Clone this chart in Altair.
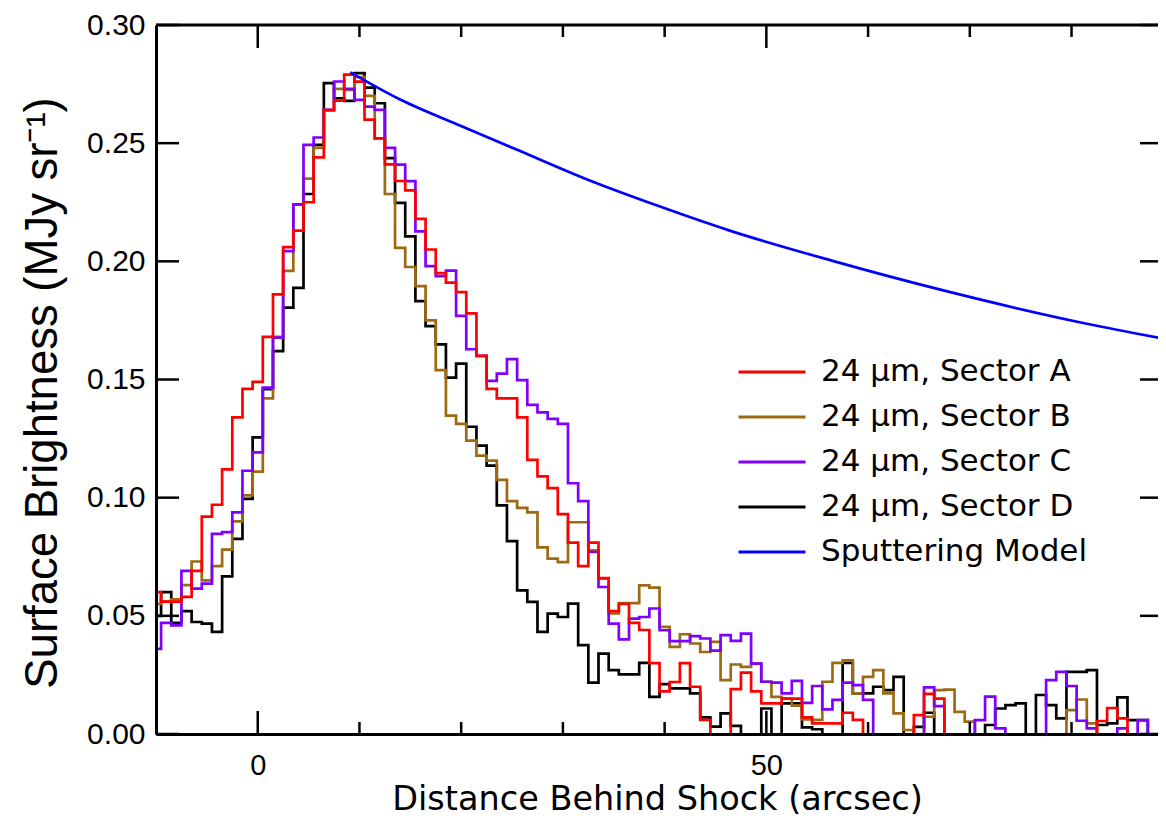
import altair as alt
import pandas as pd

# ---------------- data ----------------
x_bins = list(range(-10, 90))  # bin centres (arcsec)

sector_a = [0.060, 0.056, 0.056, 0.058, 0.069, 0.092, 0.097, 0.112, 0.134, 0.146,
            0.149, 0.168, 0.186, 0.206, 0.213, 0.225, 0.244, 0.264, 0.268, 0.279,
            0.276, 0.260, 0.252, 0.241, 0.234, 0.230, 0.218, 0.205, 0.195, 0.191,
            0.187, 0.178, 0.160, 0.146, 0.142, 0.142, 0.134, 0.116, 0.109, 0.104,
            0.093, 0.081, 0.071, 0.081, 0.066, 0.052, 0.055, 0.047, 0.044, 0.030,
            0.018, 0.022, 0.030, 0.020, 0.006, -0.003, -0.003, 0.019, 0.026, 0.018,
            0.013, 0.013, 0.015, 0.015, 0.007, 0.0045, 0.0045, 0.0045, 0.009, 0.006,
            -0.003, -0.003, -0.003, -0.003, -0.003, 0.008, 0.017, 0.015, -0.003, -0.003,
            -0.003, -0.003, -0.003, -0.003, -0.003, -0.003, -0.003, -0.003, -0.003, -0.003,
            -0.003, -0.003, -0.003, 0.0055, 0.011, 0.0066, -0.003, -0.003, -0.003, -0.003]

sector_b = [0.055, 0.056, 0.057, 0.063, 0.073, 0.065, 0.071, 0.078, 0.090, 0.101,
            0.111, 0.142, 0.168, 0.196, 0.224, 0.235, 0.248, 0.264, 0.273, 0.2725,
            0.278, 0.270, 0.252, 0.2285, 0.2057, 0.1976, 0.1895, 0.175, 0.154, 0.1347,
            0.1312, 0.1241, 0.1178, 0.1157, 0.1075, 0.0985, 0.0957, 0.0938, 0.079, 0.0742,
            0.0727, 0.0896, 0.0896, 0.0777, 0.0657, 0.051, 0.0554, 0.0554, 0.0629, 0.0619,
            0.0453, 0.0369, 0.0422, 0.0383, 0.0347, 0.039, 0.0228, 0.0294, 0.0284, 0.0298,
            0.0221, 0.0157, 0.015, 0.012, 0.0062, 0.006, 0.0221, 0.0301, 0.0312, 0.0172,
            0.0242, 0.027, 0.0172, 0.0087, 0.0017, -0.003, 0.0073, 0.0186, 0.0188, 0.0094,
            0.0052, -0.003, -0.003, -0.003, -0.003, -0.003, -0.003, -0.003, -0.003, -0.003,
            0.0101, 0.0146, 0.0045, -0.003, -0.003, -0.003, -0.003, -0.003, -0.003, -0.003]

sector_c = [0.036, 0.047, 0.046, 0.069, 0.0615, 0.0636, 0.0847, 0.0854, 0.0938, 0.1114,
            0.1192, 0.1466, 0.1677, 0.2043, 0.2241, 0.2493, 0.2524, 0.2641, 0.2761, 0.273,
            0.2683, 0.2655, 0.2641, 0.248, 0.2409, 0.2339, 0.2127, 0.198, 0.1937, 0.1961,
            0.1769, 0.1628, 0.160, 0.1494, 0.1525, 0.1586, 0.1497, 0.1393, 0.1361, 0.1333,
            0.1312, 0.1061, 0.0985, 0.077, 0.0622, 0.0467, 0.040, 0.0488, 0.0495, 0.0531,
            0.0439, 0.0393, 0.0393, 0.0414, 0.0404, 0.0353, 0.0418, 0.0394, 0.0425, 0.0298,
            0.0221, 0.0217, 0.0172, 0.0225, 0.0132, 0.0203, 0.0104, 0.0144, 0.0217, 0.0207,
            0.0144, -0.003, -0.003, -0.003, -0.003, -0.003, 0.0197, 0.0118, -0.003, -0.003,
            -0.003, 0.0059, 0.0158, 0.0024, -0.003, -0.003, -0.003, -0.003, 0.0228, 0.0263,
            0.0203, 0.0056, 0.0024, -0.003, -0.003, 0.0024, -0.003, 0.0059, -0.003, -0.003]

sector_d = [0.050, 0.060, 0.047, 0.052, 0.0474, 0.0467, 0.0432, 0.0667, 0.0826, 0.0995,
            0.1255, 0.1459, 0.162, 0.1804, 0.1888, 0.2285, 0.2493, 0.2754, 0.269, 0.2679,
            0.2796, 0.2735, 0.2669, 0.2437, 0.2247, 0.2106, 0.1832, 0.1726, 0.1649, 0.1508,
            0.1567, 0.130, 0.122, 0.1136, 0.0967, 0.0816, 0.0608, 0.0559, 0.0432, 0.0509,
            0.0495, 0.0552, 0.0376, 0.0217, 0.034, 0.027, 0.0252, 0.0252, 0.0301, 0.0157,
            0.0211, 0.0193, 0.0193, 0.0172, 0.007, 0.0031, 0.0087, 0.0034, -0.003, -0.003,
            0.0108, -0.003, 0.013, 0.013, 0.0028, 0.002, -0.003, -0.003, 0.0301, 0.0172,
            0.0172, 0.020, 0.0186, 0.0242, -0.003, 0.003, 0.009, -0.003, -0.003, -0.003,
            -0.003, -0.003, 0.0038, 0.0108, 0.0122, 0.013, -0.003, 0.0165, 0.0122, 0.0066,
            0.0263, 0.0263, 0.027, 0.0038, 0.0045, 0.0155, 0.0059, 0.0059, -0.003, -0.003]

model_x = [9.1, 14.0, 20.1, 25.5, 32.7, 39.2, 46.4, 56.6, 67.4, 81.5, 89.4]
model_y = [0.2800, 0.2685, 0.2571, 0.2472, 0.2341, 0.2237, 0.2130, 0.2001, 0.1877, 0.1736, 0.1670]

series_names = ["24 \u03bcm, Sector A", "24 \u03bcm, Sector B", "24 \u03bcm, Sector C",
                "24 \u03bcm, Sector D", "Sputtering Model"]
series_colors = ["#ff0000", "#9c6a12", "#7f00ff", "#000000", "#0000ff"]

x_major_ticks = [0, 50]
x_minor_ticks = [10, 20, 30, 40, 60, 70, 80]
y_ticks = [0.0, 0.05, 0.10, 0.15, 0.20, 0.25, 0.30]

# ---------------- layout / style ----------------
W, H = 1002, 709
FONT = "Liberation Sans"
WIDE_FONT = "DejaVu Sans"
MAJOR, MINOR, RIGHT_TICK = 23, 12, 18
LW = 2.7

xscale = alt.Scale(domain=[-10, 88.5], nice=False, zero=False)
yscale = alt.Scale(domain=[0, 0.30], nice=False, zero=False)
cscale = alt.Scale(domain=series_names, range=series_colors)

x_axis = alt.Axis(values=x_major_ticks, title="Distance Behind Shock (arcsec)",
                  ticks=False, tickSize=0, grid=False, domain=True,
                  domainColor="black", domainWidth=3,
                  labelFont=FONT, labelFontSize=29, labelColor="black",
                  labelBaseline="alphabetic", labelPadding=40,
                  titleFont=WIDE_FONT, titleFontSize=33.5, titleFontWeight="normal",
                  titleColor="black", titleBaseline="alphabetic", titleY=75.5, zindex=1)
y_axis = alt.Axis(values=y_ticks, format=".2f",
                  title="Surface Brightness (MJy sr\u207b\u00b9)",
                  ticks=False, tickSize=0, grid=False, domain=True,
                  domainColor="black", domainWidth=3,
                  labelFont=FONT, labelFontSize=30, labelColor="black", labelPadding=11,
                  titleFont=FONT, titleFontSize=45.5, titleFontWeight="normal",
                  titleColor="black", titleBaseline="alphabetic",
                  titleX=-100, titleY=367.5, zindex=1)

X = alt.X("x:Q", scale=xscale, axis=x_axis)
Y = alt.Y("y:Q", scale=yscale, axis=y_axis)

legend = alt.Legend(orient="none", legendX=581, legendY=324.5, title=None,
                    symbolType="stroke", symbolSize=4489, symbolStrokeWidth=3,
                    clipHeight=45, rowPadding=0, padding=0,
                    labelFont=WIDE_FONT, labelFontSize=31, labelColor="black",
                    labelOffset=14, labelLimit=0)
C = alt.Color("series:N", scale=cscale, legend=legend)


def step_layer(values, name):
    df = pd.DataFrame({"x": x_bins, "y": values, "series": name})
    return alt.Chart(df).mark_line(interpolate="step", strokeWidth=LW, clip=True).encode(
        x=X, y=Y, color=C)


layers = [
    step_layer(sector_d, series_names[3]),
    step_layer(sector_b, series_names[1]),
    step_layer(sector_c, series_names[2]),
    step_layer(sector_a, series_names[0]),
]

model_df = pd.DataFrame({"x": model_x, "y": model_y, "series": series_names[4]})
layers.append(alt.Chart(model_df).mark_line(interpolate="monotone", strokeWidth=LW,
                                             clip=True).encode(x=X, y=Y, color=C))

# inward ticks on all sides
xmaj = pd.DataFrame({"x": x_major_ticks})
xmin = pd.DataFrame({"x": x_minor_ticks})
yt = pd.DataFrame({"y": y_ticks})
rule = dict(color="black", strokeWidth=2.5)
layers += [
    alt.Chart(xmaj).mark_rule(**rule).encode(x=X, y=alt.value(H), y2=alt.value(H - MAJOR)),
    alt.Chart(xmin).mark_rule(**rule).encode(x=X, y=alt.value(H), y2=alt.value(H - MINOR)),
    alt.Chart(xmaj).mark_rule(**rule).encode(x=X, y=alt.value(0), y2=alt.value(MAJOR)),
    alt.Chart(xmin).mark_rule(**rule).encode(x=X, y=alt.value(0), y2=alt.value(MINOR)),
    alt.Chart(yt).mark_rule(**rule).encode(y=Y, x=alt.value(0), x2=alt.value(MAJOR)),
    alt.Chart(yt).mark_rule(**rule).encode(y=Y, x=alt.value(W), x2=alt.value(W - RIGHT_TICK)),
    # top frame line at the top of the y range
    alt.Chart(pd.DataFrame({"y": [0.30]})).mark_rule(color="black", strokeWidth=3).encode(
        y=Y, x=alt.value(0), x2=alt.value(W)),
]

chart = alt.layer(*layers).properties(
    width=W, height=H,
    autosize=alt.AutoSizeParams(type="none"),
    padding={"left": 148, "top": 17, "right": 0, "bottom": 84},
    background="white",
).configure_view(strokeWidth=0)

chart.save("out.html", embed_options={"renderer": "svg", "actions": False})
